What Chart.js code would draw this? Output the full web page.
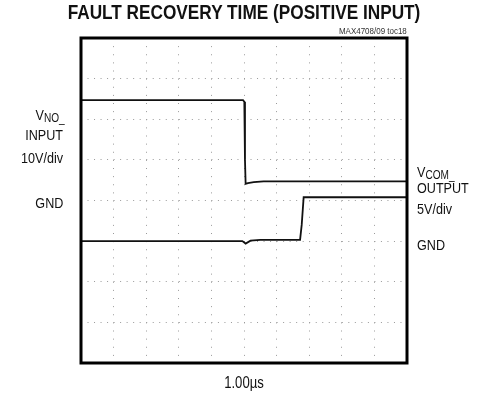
<!DOCTYPE html>
<html>
<head>
<meta charset="utf-8">
<script src="https://cdn.jsdelivr.net/npm/chart.js@4/dist/chart.umd.min.js"></script>
<style>
  html, body { margin: 0; padding: 0; background: #fff; }
  #wrap { position: relative; width: 486px; height: 400px; overflow: hidden; }
  canvas { position: absolute; left: 0; top: 0; }
  .t { position: absolute; white-space: nowrap; font-family: "Liberation Sans", Arial, sans-serif; color: #111; }
  .lbl { font-size: 15px; line-height: 15px; }
  .l { transform: scaleX(0.84); transform-origin: left center; }
  .r { text-align: right; transform: scaleX(0.84); transform-origin: right center; }
  .c { text-align: center; transform: scaleX(0.82); transform-origin: center center; }
  sub { font-size: 12px; vertical-align: -2px; line-height: 0; }
</style>
</head>
<body>
<div id="wrap">
  <canvas id="c" width="486" height="400"></canvas>
  <div class="t c" style="left:0;width:488px;top:1px;font-size:21px;line-height:21px;font-weight:bold;">FAULT RECOVERY TIME (POSITIVE INPUT)</div>
  <div class="t r" style="right:79px;top:26px;font-size:9.5px;line-height:9.5px;color:#333;">MAX4708/09 toc18</div>

  <div class="t lbl r" style="right:421px;top:107px;">V<sub>NO_</sub></div>
  <div class="t lbl r" style="right:423px;top:127px;">INPUT</div>
  <div class="t lbl r" style="right:423px;top:150px;">10V/div</div>
  <div class="t lbl r" style="right:423px;top:195px;">GND</div>

  <div class="t lbl l" style="left:417px;top:164px;">V<sub>COM_</sub></div>
  <div class="t lbl l" style="left:417px;top:180px;">OUTPUT</div>
  <div class="t lbl l" style="left:417px;top:201px;">5V/div</div>
  <div class="t lbl l" style="left:417px;top:237px;">GND</div>

  <div class="t c" style="left:0;width:488px;top:375px;font-size:16px;line-height:16px;">1.00µs</div>
</div>
<script>
// Time in microseconds (1.00 µs/div, 10 divisions)
const inputTime  = [0, 4.97, 5.01, 5.03, 5.05, 5.12, 5.3, 5.6, 10];
// V_NO_ input in volts (10 V/div, GND at centre line)
const inputVolts = [24.7, 24.7, 24.3, 10, 4.1, 4.3, 4.5, 4.7, 4.7];

const outputTime  = [0, 4.95, 5.05, 5.2, 5.5, 6.72, 6.77, 6.83, 10];
// V_COM_ output in volts (5 V/div, GND three divisions above bottom)
const outputVolts = [0, 0, -0.3, 0.05, 0.15, 0.15, 2.0, 5.4, 5.4];

const xTicks = [0, 1, 2, 3, 4, 5, 6, 7, 8, 9, 10];

const toPts = (xs, ys) => xs.map((x, i) => ({ x: x, y: ys[i] }));

const framePlugin = {
  id: 'frame',
  afterDraw(chart) {
    const a = chart.chartArea, ctx = chart.ctx;
    ctx.save();
    ctx.lineWidth = 3;
    ctx.strokeStyle = '#000';
    ctx.strokeRect(a.left, a.top, a.right - a.left, a.bottom - a.top);
    ctx.restore();
  }
};

new Chart(document.getElementById('c'), {
  type: 'line',
  data: {
    datasets: [
      { label: 'VNO_ INPUT', data: toPts(inputTime, inputVolts), yAxisID: 'y',
        borderColor: '#111', borderWidth: 1.8, pointRadius: 0, tension: 0, fill: false },
      { label: 'VCOM_ OUTPUT', data: toPts(outputTime, outputVolts), yAxisID: 'y2',
        borderColor: '#111', borderWidth: 1.8, pointRadius: 0, tension: 0, fill: false }
    ]
  },
  options: {
    responsive: false,
    animation: false,
    events: [],
    layout: { padding: { left: 81, right: 79, top: 38, bottom: 37 } },
    plugins: { legend: { display: false }, tooltip: { enabled: false }, title: { display: false } },
    scales: {
      x: {
        type: 'linear', min: xTicks[0], max: xTicks[xTicks.length - 1],
        afterBuildTicks: (s) => { s.ticks = xTicks.map(v => ({ value: v })); },
        ticks: { display: false },
        grid: { color: '#9a9a9a', lineWidth: 1, drawTicks: false },
        border: { display: false, dash: [1, 7.125] }
      },
      y: {
        type: 'linear', min: -40, max: 40,
        ticks: { display: false, stepSize: 10 },
        grid: { color: '#9a9a9a', lineWidth: 1, drawTicks: false },
        border: { display: false, dash: [1, 5.52] }
      },
      y2: {
        type: 'linear', min: -15, max: 25, display: false
      }
    }
  },
  plugins: [framePlugin]
});
</script>
</body>
</html>
